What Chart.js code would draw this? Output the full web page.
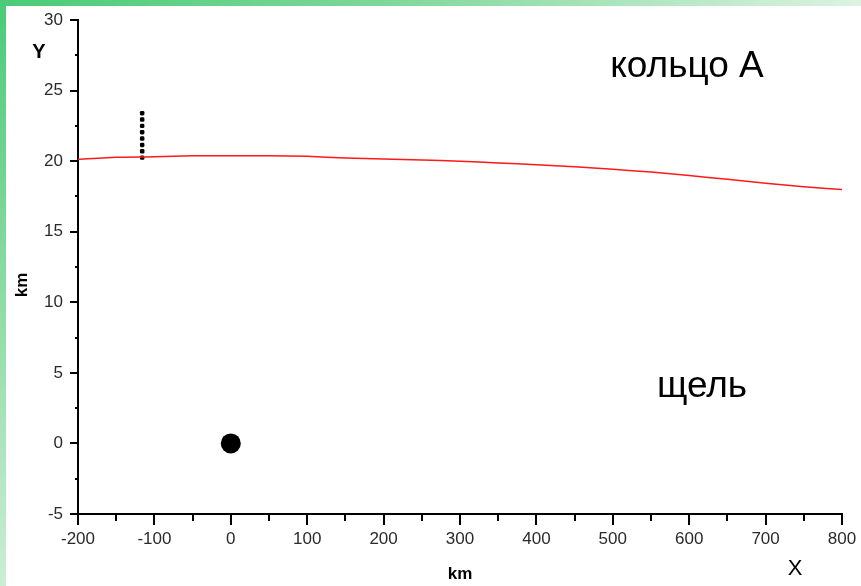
<!DOCTYPE html>
<html>
<head>
<meta charset="utf-8">
<script src="https://cdn.jsdelivr.net/npm/chart.js@4/dist/chart.umd.min.js"></script>
<style>
  html, body { margin: 0; padding: 0; }
  body { width: 861px; height: 586px; overflow: hidden; position: relative; background: #ffffff; }
  #topBand { position: absolute; left: 0; top: 0; width: 861px; height: 6px;
    background: linear-gradient(90deg, #4acb77 0%, #7fd79a 45%, #dcf3e0 100%); }
  #leftBand { position: absolute; left: 0; top: 0; width: 6px; height: 586px;
    background: linear-gradient(180deg, #4acb77 0%, #86d9a0 45%, #cbeed3 100%); }
  #wrap { position: absolute; left: 0; top: 0; width: 861px; height: 586px; }
</style>
</head>
<body>
<div id="topBand"></div>
<div id="leftBand"></div>
<div id="wrap"><canvas id="c" width="861" height="586"></canvas></div>
<script>
// Ring A edge: along-track distance (km) and radial position (km)
const ringX = [-200, -150, -100, -50, 0, 50, 100, 150, 200, 250, 300, 350, 400, 450, 500, 550, 600, 650, 700, 750, 800];
const ringY = [20.13, 20.27, 20.31, 20.38, 20.38, 20.38, 20.34, 20.22, 20.15, 20.08, 19.99, 19.87, 19.75, 19.60, 19.42, 19.23, 18.98, 18.71, 18.44, 18.19, 17.99];

// Vertical dotted track above the ring edge
const trackX = [-116, -116, -116, -116, -116, -116, -116, -116];
const trackY = [20.25, 20.7, 21.15, 21.6, 22.05, 22.5, 22.95, 23.4];

// Moonlet position
const bodyX = [0];
const bodyY = [0];

// Axis ranges and tick spacing
const xRange = [-200, 800];
const yRange = [-5, 30];
const xMajor = 100, xMinor = 50;
const yMajor = 5, yMinor = 2.5;

const zip = (xs, ys) => xs.map((x, i) => ({ x: x, y: ys[i] }));

const FONT = '"Liberation Sans", Arial, sans-serif';

// Draws major/minor tick marks outward from the axes, plus free text labels
const axisDecor = {
  id: 'axisDecor',
  afterDraw(chart) {
    const ctx = chart.ctx;
    const xs = chart.scales.x, ys = chart.scales.y;
    const area = chart.chartArea;
    ctx.save();
    ctx.strokeStyle = '#000';
    ctx.lineWidth = 2;
    ctx.beginPath();
    for (let v = xRange[0]; v <= xRange[1] + 1e-9; v += xMinor) {
      const px = Math.round(xs.getPixelForValue(v));
      const major = Math.abs(v % xMajor) < 1e-9;
      ctx.moveTo(px, area.bottom);
      ctx.lineTo(px, area.bottom + (major ? 11 : 7));
    }
    for (let v = yRange[0]; v <= yRange[1] + 1e-9; v += yMinor) {
      const py = Math.round(ys.getPixelForValue(v));
      const major = Math.abs(v % yMajor) < 1e-9;
      ctx.moveTo(area.left, py);
      ctx.lineTo(area.left - (major ? 8 : 3), py);
    }
    ctx.stroke();

    ctx.fillStyle = '#000';
    ctx.textAlign = 'center';
    ctx.textBaseline = 'middle';
    ctx.font = 'bold 20px ' + FONT;
    ctx.fillText('Y', 39, 52);
    ctx.font = '22px ' + FONT;
    ctx.fillText('X', 795, 569);
    ctx.font = '37px ' + FONT;
    ctx.fillText('кольцо А', 687, 67);
    ctx.fillText('щель', 702, 387);

    ctx.translate(22, 285);
    ctx.rotate(-Math.PI / 2);
    ctx.font = 'bold 17px ' + FONT;
    ctx.fillText('km', 0, 0);
    ctx.restore();
  }
};

// Keep the plot frame fixed: no extra room reserved for overhanging tick labels
function noLabelPadding(scale) {
  scale.paddingLeft = 0;
  scale.paddingRight = 0;
  scale.paddingTop = 0;
  scale.paddingBottom = 0;
}

new Chart(document.getElementById('c'), {
  type: 'scatter',
  data: {
    datasets: [
      {
        data: zip(ringX, ringY),
        showLine: true,
        borderColor: '#ff1a1a',
        borderWidth: 1.5,
        pointRadius: 0,
        tension: 0.2
      },
      {
        data: zip(trackX, trackY),
        pointStyle: 'rectRounded',
        pointRadius: 2.6,
        backgroundColor: '#000',
        borderColor: '#000',
        borderWidth: 0
      },
      {
        data: zip(bodyX, bodyY),
        pointStyle: 'circle',
        pointRadius: 10,
        backgroundColor: '#000',
        borderColor: '#000',
        borderWidth: 0
      }
    ]
  },
  options: {
    responsive: false,
    animation: false,
    events: [],
    layout: { padding: { left: 0, top: 20, right: 19, bottom: 0 } },
    plugins: { legend: { display: false }, tooltip: { enabled: false } },
    scales: {
      x: {
        type: 'linear',
        min: xRange[0], max: xRange[1],
        grid: { display: false, drawTicks: false },
        border: { display: true, color: '#000', width: 2 },
        ticks: { stepSize: xMajor, color: '#2a2a2a', font: { family: FONT, size: 17 }, padding: 15, maxRotation: 0 },
        title: {
          display: true, text: 'km', color: '#000',
          font: { family: FONT, size: 17, weight: 'bold' },
          padding: { top: 0, bottom: 1 }
        },
        afterFit(scale) { scale.height = 72; noLabelPadding(scale); }
      },
      y: {
        type: 'linear',
        min: yRange[0], max: yRange[1],
        grid: { display: false, drawTicks: false },
        border: { display: true, color: '#000', width: 2 },
        ticks: { stepSize: yMajor, color: '#2a2a2a', font: { family: FONT, size: 17 }, padding: 15 },
        afterFit(scale) { scale.width = 78; noLabelPadding(scale); }
      }
    }
  },
  plugins: [axisDecor]
});
</script>
</body>
</html>
